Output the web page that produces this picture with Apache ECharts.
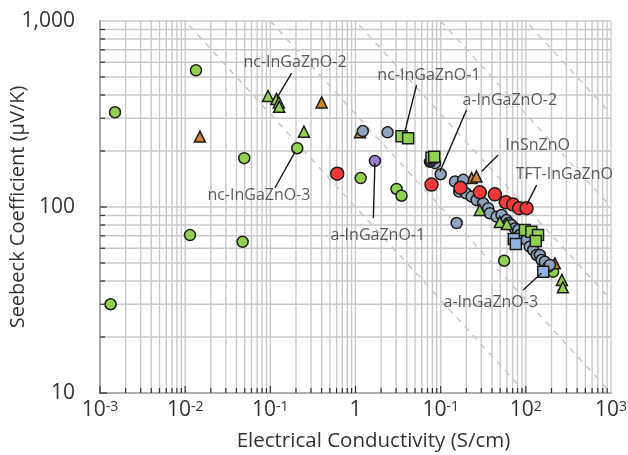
<!DOCTYPE html>
<html><head><meta charset="utf-8">
<script src="https://cdn.jsdelivr.net/npm/echarts@6/dist/echarts.min.js"></script>
<style>html,body{margin:0;padding:0;background:#fff}#c{width:628px;height:455px}</style>
</head><body><div id="c"></div>
<script>
// ---- data: [conductivity S/cm, Seebeck uV/K] ----
const greenCircles = [[0.0015,323],[0.0134,543],[0.0494,183],[0.207,207],[1.15,143],[3.03,125],[3.47,115],[0.00133,30],[0.0114,70.6],[0.0473,65],[55.6,51.4],[209,44.9]];
const orangeTriangles = [[0.0149,239],[0.40,365],[1.13,252],[23.1,143],[26.3,146],[219,49.8]];
const greenTriangles = [[0.094,395],[0.118,381],[0.126,365],[0.127,346],[0.248,254],[28.8,96.4],[49.5,83],[60,81],[265,40.5],[272,37]];
const redCircles = [[0.61,151],[7.8,132],[17.1,127],[28.8,120],[43.3,117],[58.2,106],[71,103],[83.5,98.5],[102,98.5]];
const grayCircles = [[1.22,256],[2.38,252],[15.4,82],[8.6,172],[10,150],[14.7,137],[18.4,140],[16.5,121],[19.8,118.5],[23.1,113.6],[26.4,109],[31.5,104.7],[36.1,98.4],[37.8,92.5],[45.3,88.7],[51.9,90.6],[59.3,85.1],[63,82],[67.9,80],[74.3,76.7],[81.3,75.2],[85.1,70.7],[95,68],[102,66.5],[111,61.2],[122,58.7],[134,55.2],[146,55.2],[153,51.9],[167,50.8],[183,47.7],[192,48.8]];
const darkCircles = [[7.5,175]];
const purpleCircles = [[1.69,177]];
const greenSquares = [[3.47,240],[4.15,234],[7.8,184],[8.4,186],[97.3,75.2],[116,73.6],[139,70.7],[131,65.6]];
const blueSquares = [[72.3,67.2],[76.3,63.3],[160,44.9]];
const annotations = [
  {text:'nc-InGaZnO-2', at:[0.195,602], from:[0.178,525], to:[0.119,385]},
  {text:'nc-InGaZnO-3', at:[0.0735,116], from:[0.113,126.5], to:[0.195,198]},
  {text:'nc-InGaZnO-1', at:[7.28,512], from:[5.21,453], to:[3.8,254]},
  {text:'a-InGaZnO-2', at:[64.9,376], from:[20.1,332], to:[9.8,155]},
  {text:'InSnZnO', at:[138,214], from:[47.3,190.5], to:[30.2,155]},
  {text:'TFT-InGaZnO', at:[283,150], from:[134,131], to:[102,102.6]},
  {text:'a-InGaZnO-1', at:[1.83,70.7], from:[1.69,172.5], to:[1.62,87.3]},
  {text:'a-InGaZnO-3', at:[38.8,30.5], from:[93,35.8], to:[152,44]}
];
const powerFactorLevels = [1e4,1e5,1e6,1e7,1e8];
const xTickLabels = [['10','-3'],['10','-2'],['10','-1'],['1',''],['10','-1'],['10','2'],['10','3']];
const yTickLabels = ['10','100','1,000'];
const xTitle = 'Electrical Conductivity (S/cm)';
const yTitle = 'Seebeck Coefficient (μV/K)';

const X_MIN = 0.001, X_MAX = 1000, Y_MIN = 10, Y_MAX = 1000;
const FONT = '"Open Sans", sans-serif';
const TXT = '#333333';

// grid lines and minor ticks positions (1..9 per decade)
const gridData = [], tickData = [];
for (let d = -3; d < 3; d++) for (let k = 1; k <= 9; k++) {
  const v = k * Math.pow(10, d);
  gridData.push([v, Y_MIN, 0]);
  tickData.push([v, Y_MIN, 0, k === 1 ? 1 : 0]);
}
gridData.push([X_MAX, Y_MIN, 0]);
for (let d = 1; d < 3; d++) for (let k = 1; k <= 9; k++) {
  const v = k * Math.pow(10, d);
  gridData.push([X_MIN, v, 1]);
  tickData.push([X_MIN, v, 1, k === 1 ? 1 : 0]);
}
gridData.push([X_MIN, Y_MAX, 1]);

const series = [];
series.push({
  type:'custom', silent:true, z:1, clip:false,
  data: gridData,
  renderItem(params, api){
    const o = api.value(2);
    let p1, p2;
    if (o === 0) { p1 = api.coord([api.value(0), Y_MIN]); p2 = api.coord([api.value(0), Y_MAX]); }
    else { p1 = api.coord([X_MIN, api.value(1)]); p2 = api.coord([X_MAX, api.value(1)]); }
    return {type:'line', shape:{x1:p1[0],y1:p1[1],x2:p2[0],y2:p2[1]}, style:{stroke:'#c9c9c9', lineWidth:1.4}};
  }
});
series.push({
  type:'custom', silent:true, z:6, clip:false,
  data: tickData,
  renderItem(params, api){
    const o = api.value(2), major = api.value(3);
    const len = major ? 7 : 5;
    const p = api.coord([api.value(0), api.value(1)]);
    const shape = o === 0 ? {x1:p[0],y1:p[1],x2:p[0],y2:p[1]-len} : {x1:p[0],y1:p[1],x2:p[0]+len,y2:p[1]};
    return {type:'line', shape, style:{stroke:'#333', lineWidth:1.2}};
  }
});
powerFactorLevels.forEach(c => {
  series.push({
    type:'line', silent:true, z:2, symbol:'none', clip:true,
    lineStyle:{color:'#c8c8c8', width:1.5, type:[6,6]},
    data:[[X_MIN, Math.sqrt(c / X_MIN)], [X_MAX, Math.sqrt(c / X_MAX)]]
  });
});
function scatter(data, symbol, size, color){
  return {type:'scatter', z:5, data, symbol, symbolSize:size,
    itemStyle:{color, borderColor:'#1c1c1c', borderWidth:1.5, opacity:1}};
}
series.push(scatter(greenCircles,'circle',11,'#92d050'));
series.push(scatter(orangeTriangles,'triangle',11,'#cc8530'));
series.push(scatter(grayCircles,'circle',11,'#8ea3bc'));
series.push(scatter(darkCircles,'circle',11,'#333333'));
series.push(scatter(greenSquares,'rect',11,'#92d050'));
series.push(scatter(blueSquares,'rect',11,'#8db4e2'));
series.push(scatter(greenTriangles,'triangle',11,'#92d050'));
series.push(scatter(redCircles,'circle',13,'#f23a3a'));
series.push(scatter(purpleCircles,'circle',11,'#9b80d2'));
annotations.forEach(a => {
  series.push({type:'line', silent:true, z:7, symbol:'none', clip:false,
    lineStyle:{color:'#1a1a1a', width:1.4}, data:[a.from, a.to]});
});
series.push({
  type:'scatter', silent:true, z:8, symbol:'circle', symbolSize:0,
  itemStyle:{color:'rgba(0,0,0,0)'},
  data: annotations.map(a => ({name:a.text, value:a.at})),
  label:{show:true, position:'inside', formatter:'{b}', color:TXT, fontFamily:FONT, fontSize:16}
});

const chart = echarts.init(document.getElementById('c'), null, {renderer:'canvas'});
chart.setOption({
  animation:false,
  backgroundColor:'#ffffff',
  grid:{left:100, right:17, top:21, bottom:62, containLabel:false, outerBoundsMode:'none'},
  xAxis:{
    type:'log', logBase:10, min:X_MIN, max:X_MAX, interval:1, splitNumber:6,
    name:xTitle, nameLocation:'middle', nameGap:38, nameMoveOverlap:false,
    nameTextStyle:{color:TXT, fontFamily:FONT, fontSize:20.5, padding:[0,0,0,36]},
    axisLine:{show:true, lineStyle:{color:'#333', width:1.6}},
    axisTick:{show:false}, splitLine:{show:false},
    axisLabel:{margin:7, color:TXT, fontFamily:FONT, hideOverlap:false,
      formatter(v){
        const i = Math.round(Math.log10(v)) + 3;
        const t = xTickLabels[i];
        if (!t) return '';
        return t[1] ? '{b|' + t[0] + '}{s|' + t[1] + '}' : '{b|' + t[0] + '}';
      },
      rich:{b:{fontSize:21, fontFamily:FONT, color:TXT}, s:{fontSize:14, fontFamily:FONT, color:TXT, verticalAlign:'top'}}
    }
  },
  yAxis:{
    type:'log', logBase:10, min:Y_MIN, max:Y_MAX, interval:1, splitNumber:2,
    name:yTitle, nameLocation:'middle', nameGap:72, nameRotate:90, nameMoveOverlap:false,
    nameTextStyle:{color:TXT, fontFamily:FONT, fontSize:20},
    axisLine:{show:true, lineStyle:{color:'#333', width:1.6}},
    axisTick:{show:false}, splitLine:{show:false},
    axisLabel:{margin:25, color:TXT, fontFamily:FONT, fontSize:21,
      formatter(v){ const i = Math.round(Math.log10(v)) - 1; return yTickLabels[i] || ''; }}
  },
  series
});
</script></body></html>
